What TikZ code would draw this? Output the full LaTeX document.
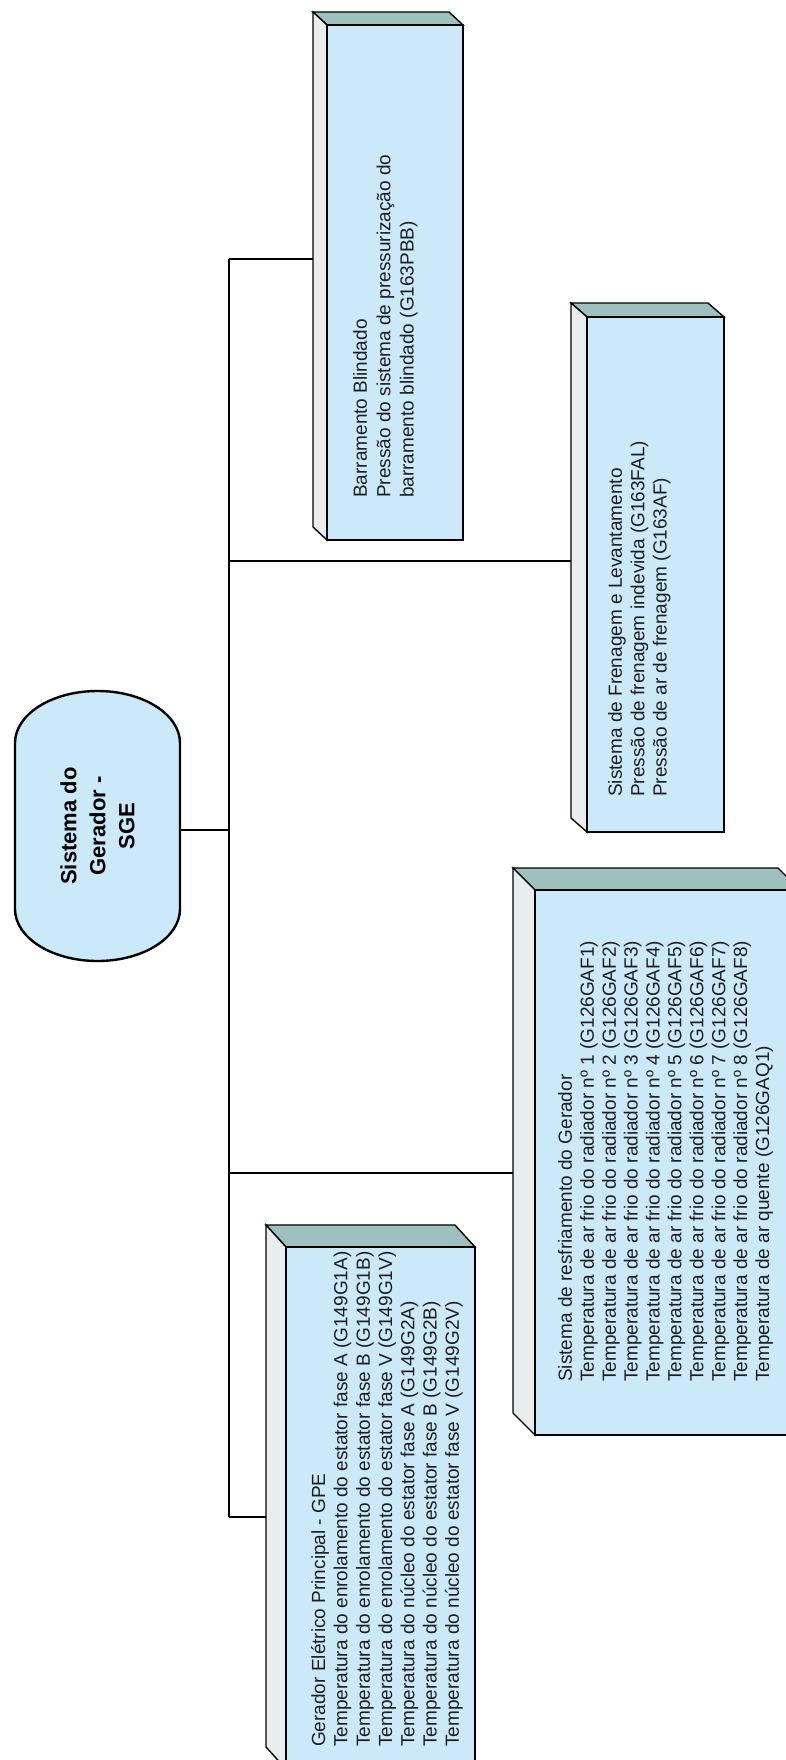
\documentclass[tikz,border=0pt]{standalone}
\usepackage{fontspec}
\setmainfont{Liberation Sans}
\usetikzlibrary{calc}

\definecolor{facefill}{RGB}{204,233,250}
\definecolor{topfill}{RGB}{158,192,190}
\definecolor{sidefill}{RGB}{232,238,240}
\definecolor{inktext}{RGB}{30,30,30}

\tikzset{
  link/.style={draw=black, line width=1.4pt},
  boxline/.style={draw=black, line width=1.4pt, line join=miter},
  frontface/.style={rectangle, draw=black, line width=1.4pt, fill=facefill,
    inner sep=0pt, outer sep=0pt},
  rootframe/.style={rectangle, draw=none, inner sep=0pt, outer sep=0pt,
    minimum width=165pt, minimum height=270pt},
  rootline/.style={draw=black, line width=2.4pt, fill=facefill},
  roottext/.style={rotate=90, align=center, inner sep=0pt, text=black,
    font=\fontsize{22}{29}\selectfont\bfseries},
  listtext/.style={rotate=90, anchor=north west, align=left, inner sep=0pt,
    text=inktext, font=\fontsize{19}{22.3}\selectfont},
}

% Box with a shaded top and left face: name, x1, y1, x2, y2 (front face), depth dx, dy
\newcommand{\prismbox}[7]{%
  \filldraw[boxline, fill=topfill] ({#2-#6},{#3-#7}) -- ({#4-#6},{#3-#7}) -- (#4,#3) -- (#2,#3) -- cycle;
  \filldraw[boxline, fill=sidefill] ({#2-#6},{#3-#7}) -- (#2,#3) -- (#2,#5) -- ({#2-#6},{#5-#7}) -- cycle;
  \node[frontface, minimum width={#4-#2}, minimum height={#5-#3}] (#1) at ({(#2+#4)/2},{(#3+#5)/2}) {};
  \coordinate (#1-edge) at ({#2-#6},{(#3+#5)/2});
}

\begin{document}
\begin{tikzpicture}[x=1pt,y=-1pt]
\useasboundingbox (0,0) rectangle (786,1760);
\clip (0,0) rectangle (786,1760);
\fill[white] (0,0) rectangle (786,1760);

% root: Sistema do Gerador
\node[rootframe] (root) at (97.5,826) {};
\filldraw[rootline] ([yshift=-52pt]root.north west)
  arc[start angle=180, end angle=0, x radius=82.5pt, y radius=52pt]
  -- ([yshift=52pt]root.south east)
  arc[start angle=0, end angle=-180, x radius=82.5pt, y radius=52pt]
  -- cycle;
\node[roottext] (roottxt) at (root.center) {Sistema do\\Gerador -\\SGE};

% the four branch boxes
\prismbox{bb}{327}{25}{463}{540}{14}{13}
\prismbox{fr}{587}{317}{724}{832}{16}{14}
\prismbox{rs}{535}{890}{800}{1435}{22}{22}
\prismbox{gp}{286}{1247}{475}{1769}{20}{22}

\node[listtext, font=\fontsize{19}{23.3}\selectfont] (bbtxt) at (353,498)
  {Barramento  Blindado\\Pressão do sistema de pressurização do\\barramento blindado (G163PBB)};
\node[listtext] (frtxt) at (608,797)
  {Sistema de Frenagem e Levantamento\\Pressão de frenagem indevida (G163FAL)\\Pressão de ar de frenagem (G163AF)};
\node[listtext, font=\fontsize{19}{21.9}\selectfont] (rstxt) at (558,1382)
  {Sistema de resfriamento do Gerador\\
   Temperatura de ar frio do radiador nº 1 (G126GAF1)\\
   Temperatura de ar frio do radiador nº 2 (G126GAF2)\\
   Temperatura de ar frio do radiador nº 3 (G126GAF3)\\
   Temperatura de ar frio do radiador nº 4 (G126GAF4)\\
   Temperatura de ar frio do radiador nº 5 (G126GAF5)\\
   Temperatura de ar frio do radiador nº 6 (G126GAF6)\\
   Temperatura de ar frio do radiador nº 7 (G126GAF7)\\
   Temperatura de ar frio do radiador nº 8 (G126GAF8)\\
   Temperatura de ar quente (G126GAQ1)};
\node[listtext] (gptxt) at (311,1747)
  {Gerador  Elétrico Principal - GPE\\
   Temperatura do enrolamento do estator fase A (G149G1A)\\
   Temperatura do enrolamento do estator fase  B (G149G1B)\\
   Temperatura do enrolamento do estator fase V (G149G1V)\\
   Temperatura do núcleo do estator fase A (G149G2A)\\
   Temperatura do núcleo do estator fase  B (G149G2B)\\
   Temperatura do núcleo do estator fase V (G149G2V)};

% trunk and branches
\coordinate (jroot) at (229,830);
\coordinate (tbb) at (229,259);
\coordinate (tfr) at (229,561);
\coordinate (trs) at (229,1173);
\coordinate (tgp) at (229,1517);

\draw[link] (tbb) -- (tgp);
\draw[link] (root.east |- jroot) -- (jroot);
\draw[link] (tbb) -- (tbb -| bb-edge);
\draw[link] (tfr) -- (tfr -| fr-edge);
\draw[link] (trs) -- (trs -| rs-edge);
\draw[link] (tgp) -- (tgp -| gp-edge);
\end{tikzpicture}
\end{document}
